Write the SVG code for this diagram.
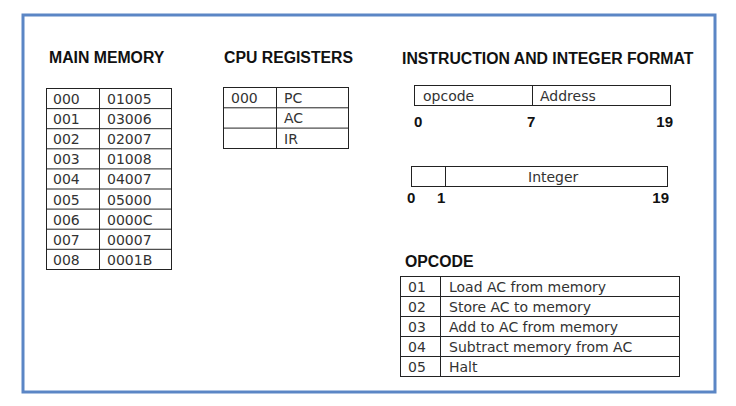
<svg xmlns="http://www.w3.org/2000/svg" width="736" height="406" viewBox="0 0 736 406">
<style>
.t{font-family:"DejaVu Sans","Liberation Sans",sans-serif;font-size:14px;fill:#333}
.h{font-family:"Liberation Sans",Arial,sans-serif;font-size:15.8px;font-weight:bold;fill:#111}
.n{font-family:"Liberation Sans",Arial,sans-serif;font-size:15px;font-weight:bold;fill:#111}
.c{fill:none;stroke:#222;stroke-width:1}
</style>
<rect x="0" y="0" width="736" height="406" fill="#fff"/>
<rect x="23" y="15" width="692" height="377" fill="none" stroke="#5b86c5" stroke-width="3"/>
<g id="main-memory">
<text class="h" x="49" y="63">MAIN MEMORY</text>
<rect class="c" x="46.5" y="88.5" width="125" height="181"/>
<line class="c" x1="99.5" y1="88.5" x2="99.5" y2="269.5"/>
<path class="c" d="M46.5 108.6H171.5M46.5 128.7H171.5M46.5 148.8H171.5M46.5 168.9H171.5M46.5 189H171.5M46.5 209.1H171.5M46.5 229.2H171.5M46.5 249.3H171.5"/>
<text class="t" x="53" y="104">000</text><text class="t" x="107" y="104">01005</text>
<text class="t" x="53" y="124">001</text><text class="t" x="107" y="124">03006</text>
<text class="t" x="53" y="144">002</text><text class="t" x="107" y="144">02007</text>
<text class="t" x="53" y="164">003</text><text class="t" x="107" y="164">01008</text>
<text class="t" x="53" y="184">004</text><text class="t" x="107" y="184">04007</text>
<text class="t" x="53" y="205">005</text><text class="t" x="107" y="205">05000</text>
<text class="t" x="53" y="225">006</text><text class="t" x="107" y="225">0000C</text>
<text class="t" x="53" y="245">007</text><text class="t" x="107" y="245">00007</text>
<text class="t" x="53" y="265">008</text><text class="t" x="107" y="265">0001B</text>
</g>
<g id="cpu-registers">
<text class="h" x="224" y="63">CPU REGISTERS</text>
<rect class="c" x="223.5" y="87.5" width="125" height="61"/>
<line class="c" x1="276.5" y1="87.5" x2="276.5" y2="148.5"/>
<path class="c" d="M223.5 107.8H348.5M223.5 128.1H348.5"/>
<text class="t" x="231" y="103">000</text><text class="t" x="284" y="103">PC</text>
<text class="t" x="284" y="123">AC</text>
<text class="t" x="284" y="144">IR</text>
</g>
<g id="instruction-format">
<text class="h" x="402" y="64">INSTRUCTION AND INTEGER FORMAT</text>
<rect class="c" x="414.5" y="85.5" width="256" height="20"/>
<line class="c" x1="532.5" y1="85.5" x2="532.5" y2="105.5"/>
<text class="t" x="423" y="101">opcode</text>
<text class="t" x="540" y="101">Address</text>
<text class="n" x="414" y="127">0</text>
<text class="n" x="527" y="127">7</text>
<text class="n" x="673" y="127" text-anchor="end">19</text>
</g>
<g id="integer-format">
<rect class="c" x="411.5" y="166.5" width="256" height="20"/>
<line class="c" x1="445.5" y1="166.5" x2="445.5" y2="186.5"/>
<text class="t" x="528" y="182">Integer</text>
<text class="n" x="407" y="203">0</text>
<text class="n" x="437" y="203">1</text>
<text class="n" x="669" y="203" text-anchor="end">19</text>
</g>
<g id="opcode-table">
<text class="h" x="405" y="267">OPCODE</text>
<rect class="c" x="400.5" y="276.5" width="279" height="100"/>
<line class="c" x1="440.5" y1="276.5" x2="440.5" y2="376.5"/>
<path class="c" d="M400.5 296.5H679.5M400.5 316.5H679.5M400.5 336.5H679.5M400.5 356.5H679.5"/>
<text class="t" x="408" y="292">01</text><text class="t" x="449" y="292">Load AC from memory</text>
<text class="t" x="408" y="312">02</text><text class="t" x="449" y="312">Store AC to memory</text>
<text class="t" x="408" y="332">03</text><text class="t" x="449" y="332">Add to AC from memory</text>
<text class="t" x="408" y="352">04</text><text class="t" x="449" y="352">Subtract memory from AC</text>
<text class="t" x="408" y="372">05</text><text class="t" x="449" y="372">Halt</text>
</g>
</svg>
